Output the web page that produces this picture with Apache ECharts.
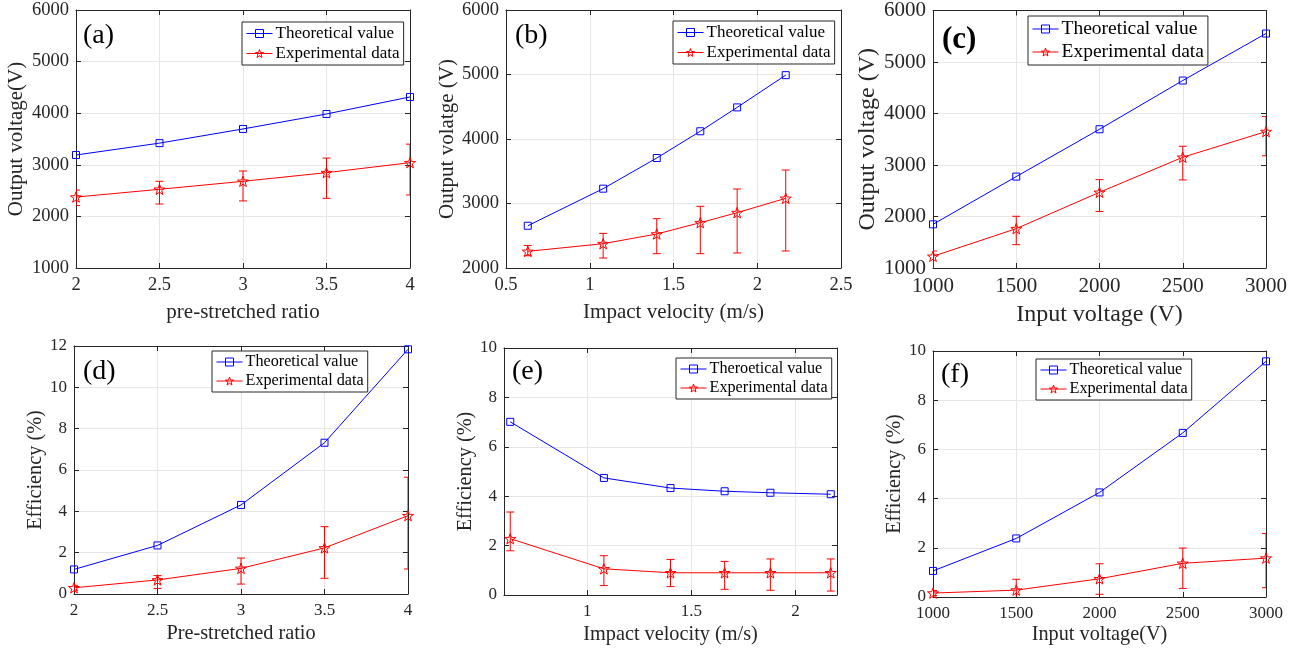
<!DOCTYPE html>
<html>
<head>
<meta charset="utf-8">
<script src="https://cdn.jsdelivr.net/npm/echarts@6/dist/echarts.min.js"></script>
<style>
  html, body { margin: 0; padding: 0; background: #fff; }
  #chart { width: 1300px; height: 653px; }
</style>
</head>
<body>
<div id="chart"></div>
<script>
// (a) output voltage vs pre-stretched ratio
const ratioX = [2, 2.5, 3, 3.5, 4];
const aTheory = [3190, 3420, 3695, 3985, 4315];
const aExp = [2375, 2525, 2680, 2848, 3041];
const aExpLow = [2210, 2240, 2300, 2350, 2415];
const aExpHigh = [2510, 2680, 2880, 3130, 3400];

// (b) output voltage vs impact velocity
const velocityX = [0.63, 1.08, 1.40, 1.66, 1.88, 2.17];
const bTheory = [2655, 3230, 3705, 4120, 4490, 4990];
const bExp = [2258, 2377, 2527, 2703, 2858, 3080];
const bExpLow = [2190, 2155, 2222, 2222, 2233, 2264];
const bExpHigh = [2350, 2537, 2765, 2956, 3225, 3519];

// (c) output voltage vs input voltage
const inputX = [1000, 1500, 2000, 2500, 3000];
const cTheory = [1848, 2775, 3694, 4640, 5553];
const cExp = [1227, 1764, 2470, 3150, 3649];
const cExpLow = [980, 1453, 2098, 2710, 3180];
const cExpHigh = [1330, 2004, 2716, 3364, 3940];

// (d) efficiency vs pre-stretched ratio
const dTheory = [1.19, 2.35, 4.31, 7.32, 11.84];
const dExp = [0.30, 0.68, 1.24, 2.23, 3.79];
const dExpLow = [0.18, 0.27, 0.48, 0.76, 1.21];
const dExpHigh = [0.42, 0.89, 1.74, 3.26, 5.65];

// (e) efficiency vs impact velocity
const eTheory = [7.01, 4.74, 4.33, 4.20, 4.14, 4.08];
const eExp = [2.28, 1.06, 0.90, 0.90, 0.90, 0.90];
const eExpLow = [1.79, 0.38, 0.34, 0.23, 0.19, 0.16];
const eExpHigh = [3.36, 1.59, 1.44, 1.36, 1.46, 1.46];

// (f) efficiency vs input voltage
const fTheory = [1.06, 2.38, 4.25, 6.67, 9.58];
const fExp = [0.16, 0.28, 0.74, 1.37, 1.58];
const fExpLow = [0.06, -0.03, 0.11, 0.35, 0.38];
const fExpHigh = [0.26, 0.72, 1.35, 1.99, 2.58];

const FONT = "'Liberation Serif', 'Times New Roman', serif";
const INK = '#262626';
const BLUE = '#0000ff';
const RED = '#ff0000';
const HOLLOW = 'rgba(255,255,255,0)';
const STAR = 'path://M0,-10L2.35,-3.24L9.51,-3.09L3.8,1.24L5.88,8.09L0,4L-5.88,8.09L-3.8,1.24L-9.51,-3.09L-2.35,-3.24Z';

const panels = [
  { label: '(a)', labelPos: [83, 22], labelSize: 28,
    grid: { left: 76, top: 10, width: 334, height: 258 },
    x: { min: 2, max: 4, interval: 0.5 }, y: { min: 1000, max: 6000, interval: 1000 },
    xName: 'pre-stretched ratio', yName: 'Output voltage(V)', tick: 18.5, title: 21,
    xGap: 34, yGap: 49, legend: { left: 242, top: 22 }, legendFont: 17,
    xs: ratioX, theory: aTheory, exp: aExp, lo: aExpLow, hi: aExpHigh, theoryName: 'Theoretical value' },
  { label: '(b)', labelPos: [515, 22], labelSize: 28,
    grid: { left: 506, top: 10, width: 335, height: 258 },
    x: { min: 0.5, max: 2.5, interval: 0.5 }, y: { min: 2000, max: 6000, interval: 1000 },
    xName: 'Impact velocity (m/s)', yName: 'Output volatge (V)', tick: 18.5, title: 21,
    xGap: 34, yGap: 48, legend: { left: 673, top: 21 }, legendFont: 17,
    xs: velocityX, theory: bTheory, exp: bExp, lo: bExpLow, hi: bExpHigh, theoryName: 'Theoretical value' },
  { label: '(c)', labelPos: [942, 24], labelSize: 31, labelBold: true,
    grid: { left: 933, top: 10, width: 333, height: 258 },
    x: { min: 1000, max: 3000, interval: 500 }, y: { min: 1000, max: 6000, interval: 1000 },
    xName: 'Input voltage (V)', yName: 'Output voltage (V)', tick: 21, title: 24,
    xGap: 35, yGap: 50, legend: { left: 1028, top: 16 }, legendFont: 19.5,
    xs: inputX, theory: cTheory, exp: cExp, lo: cExpLow, hi: cExpHigh, theoryName: 'Theoretical value' },
  { label: '(d)', labelPos: [83, 358], labelSize: 28,
    grid: { left: 74, top: 346, width: 334, height: 248 },
    x: { min: 2, max: 4, interval: 0.5 }, y: { min: 0, max: 12, interval: 2 },
    xName: 'Pre-stretched ratio', yName: 'Efficiency (%)', tick: 17, title: 20.3,
    xGap: 30, yGap: 27, legend: { left: 212, top: 351 }, legendFont: 16.2,
    xs: ratioX, theory: dTheory, exp: dExp, lo: dExpLow, hi: dExpHigh, theoryName: 'Theoretical value' },
  { label: '(e)', labelPos: [512, 358], labelSize: 28,
    grid: { left: 504, top: 348, width: 333, height: 247 },
    x: { min: 0.6, max: 2.2, splitNumber: 3 }, y: { min: 0, max: 10, interval: 2 },
    xName: 'Impact velocity (m/s)', yName: 'Efficiency (%)', tick: 17, title: 20.3,
    xGap: 30, yGap: 27, legend: { left: 676, top: 358 }, legendFont: 16.2,
    xs: velocityX, theory: eTheory, exp: eExp, lo: eExpLow, hi: eExpHigh, theoryName: 'Theroetical value' },
  { label: '(f)', labelPos: [941, 361], labelSize: 28,
    grid: { left: 933, top: 351, width: 333, height: 246 },
    x: { min: 1000, max: 3000, interval: 500 }, y: { min: 0, max: 10, interval: 2 },
    xName: 'Input voltage(V)', yName: 'Efficiency (%)', tick: 17, title: 20.3,
    xGap: 28, yGap: 27, legend: { left: 1036, top: 359 }, legendFont: 16.2,
    xs: inputX, theory: fTheory, exp: fExp, lo: fExpLow, hi: fExpHigh, theoryName: 'Theoretical value' }
];

function errorBar(params, api) {
  const x = api.value(0);
  const lo = api.coord([x, api.value(1)]);
  const hi = api.coord([x, api.value(2)]);
  const cap = 4;
  const style = { stroke: RED, lineWidth: 1 };
  return {
    type: 'group',
    children: [
      { type: 'line', shape: { x1: lo[0], y1: lo[1], x2: hi[0], y2: hi[1] }, style },
      { type: 'line', shape: { x1: lo[0] - cap, y1: lo[1], x2: lo[0] + cap, y2: lo[1] }, style },
      { type: 'line', shape: { x1: hi[0] - cap, y1: hi[1], x2: hi[0] + cap, y2: hi[1] }, style }
    ]
  };
}

function fmtX(v, p) {
  // (e) axis has extent ticks at 0.6 / 2.2 that MATLAB doesn't label
  if (p.x.splitNumber && Math.abs(v * 2 - Math.round(v * 2)) > 1e-6) return '';
  return String(v);
}

const option = {
  animation: false,
  backgroundColor: '#fff',
  textStyle: { fontFamily: FONT },
  grid: [], xAxis: [], yAxis: [], legend: [], series: [], graphic: []
};

panels.forEach((p, i) => {
  option.grid.push(Object.assign({ containLabel: false }, p.grid));
  const tickStyle = { show: true, inside: true, length: 5, lineStyle: { color: INK, width: 1 } };
  const lineStyle = { show: true, onZero: false, lineStyle: { color: INK, width: 1 } };
  const labelStyle = { color: INK, fontFamily: FONT, fontSize: p.tick };

  option.xAxis.push(Object.assign({
    type: 'value', gridIndex: i, position: 'bottom',
    name: p.xName, nameLocation: 'middle', nameGap: p.xGap,
    nameTextStyle: { color: INK, fontFamily: FONT, fontSize: p.title },
    axisLine: lineStyle, axisTick: tickStyle,
    axisLabel: Object.assign({ margin: 8, formatter: v => fmtX(v, p) }, labelStyle),
    splitLine: { show: true, lineStyle: { color: '#e6e6e6', width: 1 } }
  }, p.x));
  option.xAxis.push(Object.assign({
    type: 'value', gridIndex: i, position: 'top',
    axisLine: lineStyle, axisTick: tickStyle, axisLabel: { show: false }, splitLine: { show: false }
  }, p.x));

  option.yAxis.push(Object.assign({
    type: 'value', gridIndex: i, position: 'left',
    name: p.yName, nameLocation: 'middle', nameGap: p.yGap,
    nameTextStyle: { color: INK, fontFamily: FONT, fontSize: p.title },
    axisLine: lineStyle, axisTick: tickStyle,
    axisLabel: Object.assign({ margin: 7, formatter: v => String(v) }, labelStyle),
    splitLine: { show: true, lineStyle: { color: '#e6e6e6', width: 1 } }
  }, p.y));
  option.yAxis.push(Object.assign({
    type: 'value', gridIndex: i, position: 'right',
    axisLine: lineStyle, axisTick: tickStyle, axisLabel: { show: false }, splitLine: { show: false }
  }, p.y));

  const xi = i * 2, yi = i * 2;
  option.series.push({
    name: p.theoryName, type: 'line', xAxisIndex: xi, yAxisIndex: yi,
    data: p.xs.map((x, k) => [x, p.theory[k]]),
    symbol: 'rect', symbolSize: 7,
    lineStyle: { color: BLUE, width: 1 },
    itemStyle: { color: HOLLOW, borderColor: BLUE, borderWidth: 1 },
    z: 3
  });
  option.series.push({
    name: 'err' + i, type: 'custom', xAxisIndex: xi, yAxisIndex: yi,
    data: p.xs.map((x, k) => [x, p.lo[k], p.hi[k]]),
    renderItem: errorBar, clip: true, z: 2, silent: true
  });
  option.series.push({
    name: 'Experimental data', type: 'line', xAxisIndex: xi, yAxisIndex: yi,
    data: p.xs.map((x, k) => [x, p.exp[k]]),
    symbol: STAR, symbolSize: 11, symbolKeepAspect: true,
    lineStyle: { color: RED, width: 1 },
    itemStyle: { color: HOLLOW, borderColor: RED, borderWidth: 1 },
    z: 3
  });

  option.legend.push({
    left: p.legend.left, top: p.legend.top, orient: 'vertical',
    data: [
      { name: p.theoryName,
        itemStyle: { color: HOLLOW, borderColor: BLUE, borderWidth: 1 },
        lineStyle: { color: BLUE, width: 1 } },
      { name: 'Experimental data',
        itemStyle: { color: HOLLOW, borderColor: RED, borderWidth: 1 },
        lineStyle: { color: RED, width: 1 } }
    ],
    itemWidth: 26, itemHeight: 10, itemGap: 3,
    padding: [3, 4, 3, 4],
    backgroundColor: '#fff', borderColor: INK, borderWidth: 1, borderRadius: 0,
    selectedMode: false,
    textStyle: { color: '#000', fontFamily: FONT, fontSize: p.legendFont, padding: [0, 0, 0, -2] }
  });

  option.graphic.push({
    type: 'text', left: p.labelPos[0], top: p.labelPos[1], z: 10,
    style: { text: p.label, fill: '#000', font: (p.labelBold ? 'bold ' : '') + p.labelSize + 'px ' + FONT }
  });
});

const chart = echarts.init(document.getElementById('chart'));
chart.setOption(option);
window.addEventListener('resize', chart.resize);
</script>
</body>
</html>
